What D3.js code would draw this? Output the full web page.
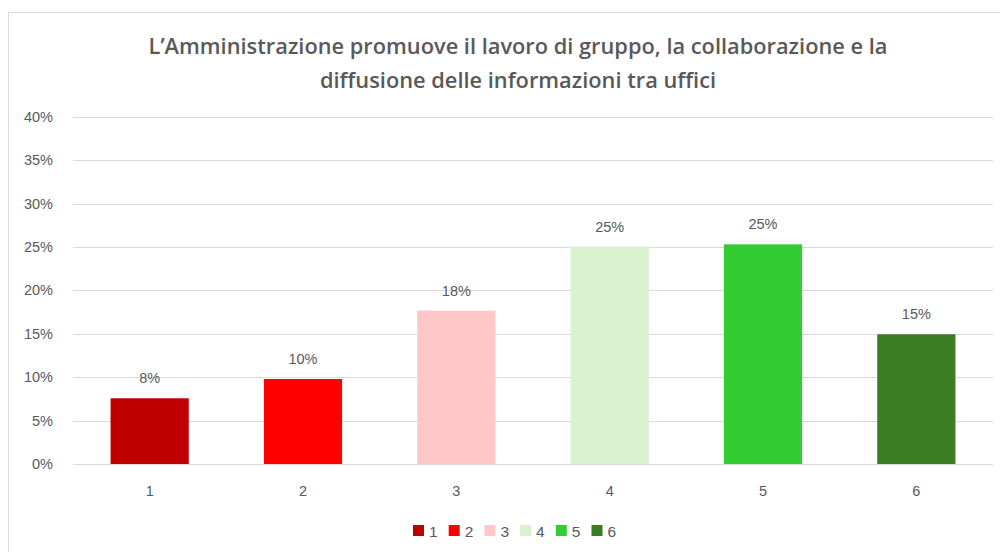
<!DOCTYPE html>
<html>
<head>
<meta charset="utf-8">
<script src="https://cdn.jsdelivr.net/npm/d3@7"></script>
<style>
  body { margin: 0; background: #fff; }
  svg { display: block; }
</style>
</head>
<body>
<div id="chart"></div>
<script>
const categories = ["1", "2", "3", "4", "5", "6"];
const values = [0.0757, 0.0979, 0.1766, 0.2505, 0.2530, 0.1494];
const valueLabels = ["8%", "10%", "18%", "25%", "25%", "15%"];
const barColors = ["#C00000", "#FF0000", "#FFC7C7", "#D9F2D0", "#33CC33", "#3A7D22"];
const yTicks = [0, 0.05, 0.10, 0.15, 0.20, 0.25, 0.30, 0.35, 0.40];
const titleLines = [
    "L\u2019Amministrazione promuove il lavoro di gruppo, la collaborazione e la",
    "diffusione delle informazioni tra uffici"
];

const width = 1000;
const height = 552;
const margin = { top: 116.7, right: 7, bottom: 88, left: 73 };
const textColor = "#595959";
const font = "'Liberation Sans', Arial, sans-serif";

const svg = d3.select("#chart")
    .append("svg")
    .attr("width", width)
    .attr("height", height);

// chart frame
svg.append("rect")
    .attr("x", 8.5)
    .attr("y", 12.5)
    .attr("width", width)
    .attr("height", height)
    .attr("fill", "#fff")
    .attr("stroke", "#d9d9d9");

const x = d3.scaleBand()
    .domain(categories)
    .range([margin.left, width - margin.right])
    .paddingInner(0.49)
    .paddingOuter(0.245);

const y = d3.scaleLinear()
    .domain([0, 0.40])
    .range([height - margin.bottom, margin.top]);

// gridlines
svg.append("g")
    .selectAll("line")
    .data(yTicks)
    .enter()
    .append("line")
    .attr("x1", margin.left)
    .attr("x2", width - margin.right)
    .attr("y1", d => Math.round(y(d)) + 0.5)
    .attr("y2", d => Math.round(y(d)) + 0.5)
    .attr("stroke", "#d9d9d9")
    .attr("stroke-width", 1);

// y axis labels
const yAxis = d3.axisLeft(y)
    .tickValues(yTicks)
    .tickFormat(d3.format(".0%"))
    .tickSize(0)
    .tickPadding(20);

svg.append("g")
    .attr("transform", `translate(${margin.left},0)`)
    .call(yAxis)
    .call(g => g.select(".domain").remove())
    .selectAll("text")
    .attr("fill", textColor)
    .style("font-family", font)
    .style("font-size", "14.5px");

// x axis labels
const xAxis = d3.axisBottom(x).tickSize(0).tickPadding(22);
svg.append("g")
    .attr("transform", `translate(0,${height - margin.bottom})`)
    .call(xAxis)
    .call(g => g.select(".domain").remove())
    .selectAll("text")
    .attr("fill", textColor)
    .style("font-family", font)
    .style("font-size", "14.5px");

// bars
svg.append("g")
    .selectAll("rect")
    .data(values)
    .enter()
    .append("rect")
    .attr("x", (d, i) => x(categories[i]))
    .attr("y", d => y(d))
    .attr("width", x.bandwidth())
    .attr("height", d => y(0) - y(d))
    .attr("fill", (d, i) => barColors[i]);

// data labels
svg.append("g")
    .selectAll("text")
    .data(values)
    .enter()
    .append("text")
    .attr("x", (d, i) => x(categories[i]) + x.bandwidth() / 2)
    .attr("y", d => y(d) - 15)
    .attr("text-anchor", "middle")
    .attr("fill", textColor)
    .style("font-family", font)
    .style("font-size", "14.5px")
    .text((d, i) => valueLabels[i]);

// title
svg.append("g")
    .selectAll("text")
    .data(titleLines)
    .enter()
    .append("text")
    .attr("x", 518)
    .attr("y", (d, i) => 54 + i * 34)
    .attr("text-anchor", "middle")
    .attr("fill", textColor)
    .style("font-family", "'Open Sans', sans-serif")
    .style("font-weight", "600")
    .style("font-size", "21.8px")
    .text(d => d);

// legend
const legend = svg.append("g")
    .selectAll("g")
    .data(categories)
    .enter()
    .append("g")
    .attr("transform", (d, i) => `translate(${413 + i * 35.7},525)`);

legend.append("rect")
    .attr("width", 11)
    .attr("height", 11)
    .attr("fill", (d, i) => barColors[i]);

legend.append("text")
    .attr("x", 16)
    .attr("y", 11.5)
    .attr("fill", textColor)
    .style("font-family", font)
    .style("font-size", "15.5px")
    .text(d => d);
</script>
</body>
</html>
